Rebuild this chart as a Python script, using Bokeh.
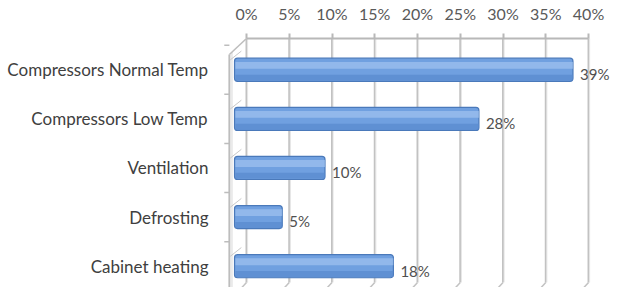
from bokeh.plotting import figure
from bokeh.models import Range1d, LinearAxis, FixedTicker, ColumnDataSource
from bokeh.core.properties import value
from bokeh.embed import file_html
from bokeh.resources import INLINE

# ---- data ----
categories = ["Compressors Normal Temp", "Compressors Low Temp", "Ventilation",
              "Defrosting", "Cabinet heating"]
shares = [39, 28, 10, 5, 18]
share_labels = ["39%", "28%", "10%", "5%", "18%"]
x_ticks = [0, 5, 10, 15, 20, 25, 30, 35, 40]
x_tick_labels = ["0%", "5%", "10%", "15%", "20%", "25%", "30%", "35%", "40%"]

# ---- style constants ----
FONT = "Lato"
BAR_LEFT = -1.4       # 3D front-face offset
END_SHIFT = -0.82
BAR_H = 0.47

n = len(categories)
ypos = [n - 1 - i for i in range(n)]

src = ColumnDataSource(dict(
    y=ypos,
    right=[v + END_SHIFT for v in shares],
    lab_x=[v + 0.0 for v in shares],
    lab_y=[y - 0.09 for y in ypos],
    hi_y=[y + 0.09 for y in ypos],
    lo_y=[y - 0.16 for y in ypos],
    label=share_labels,
))

p = figure(width=613, height=287, output_backend="svg", toolbar_location=None,
           x_range=Range1d(-2.807, 42.92), y_range=Range1d(-0.434, 4.636),
           x_axis_location=None, y_axis_location=None,
           min_border_left=222, min_border_right=0, min_border_top=36,
           min_border_bottom=0)
p.outline_line_color = None
p.background_fill_color = "white"

# top axis
xa = LinearAxis(ticker=FixedTicker(ticks=x_ticks))
xa.major_label_overrides = {t: s for t, s in zip(x_ticks, x_tick_labels)}
xa.bounds = (0, 40)
xa.axis_line_color = "#b8b8b8"
xa.axis_line_width = 2
xa.major_tick_line_color = "#b8b8b8"
xa.major_tick_line_width = 2
xa.major_tick_out = 5
xa.major_tick_in = 0
xa.minor_tick_line_color = None
xa.major_label_standoff = 11
xa.major_label_text_font = FONT
xa.major_label_text_font_size = "16px"
xa.major_label_text_color = "#595959"
p.add_layout(xa, "above")

# left axis (category labels)
ya = LinearAxis(ticker=FixedTicker(ticks=ypos))
ya.major_label_overrides = {y: c for y, c in zip(ypos, categories)}
ya.axis_line_color = None
ya.major_tick_line_color = None
ya.minor_tick_line_color = None
ya.major_tick_out = 0
ya.major_tick_in = 0
ya.major_label_standoff = 14
ya.major_label_text_font = FONT
ya.major_label_text_font_size = "17px"
ya.major_label_text_color = "#404040"
p.add_layout(ya, "left")

# grid lines (back wall)
p.xgrid.visible = False
p.ygrid.visible = False
p.segment(x0=x_ticks, x1=x_ticks, y0=-0.33, y1=4.7, line_color="#c2c2c2", line_width=2)
p.segment(x0=[t + 0.13 for t in x_ticks], x1=[t + 0.13 for t in x_ticks],
          y0=-0.33, y1=4.7, line_color="#e6e6e6", line_width=1)
# floor stubs
p.segment(x0=x_ticks, x1=[t - 1.4 for t in x_ticks], y0=-0.33, y1=-0.6,
          line_color="#c2c2c2", line_width=1.5)

# left wall
bounds = [y + 0.5 for y in ypos]
p.segment(x0=[-2.0], x1=[-2.0], y0=[-0.6], y1=[4.31], line_color="#bdbdbd", line_width=2)
p.segment(x0=[-1.7], x1=[-1.7], y0=[-0.6], y1=[4.36], line_color="#d8d8d8", line_width=1)
p.segment(x0=[-2.0], x1=[0], y0=[4.31], y1=[4.636], line_color="#bdbdbd", line_width=1.5)
p.segment(x0=[-2.6] * n, x1=[-2.0] * n, y0=bounds, y1=bounds,
          line_color="#bdbdbd", line_width=1.5)
p.segment(x0=[-1.9] * n, x1=[-0.6] * n, y0=[b - 0.3 for b in bounds],
          y1=[b - 0.12 for b in bounds], line_color="#c8c8c8", line_width=1)

# bars
p.hbar(y="y", left=BAR_LEFT, right="right", height=BAR_H, source=src,
       fill_color="#70a0e0", line_color="#4a79ba", line_width=1.2, border_radius=3)
p.hbar(y="lo_y", left=BAR_LEFT + 0.1, right="right", height=0.12, source=src,
       fill_color="#5889cd", fill_alpha=0.7, line_color=None)
p.hbar(y="hi_y", left=BAR_LEFT + 0.1, right="right", height=0.14, source=src,
       fill_color="#a9c8f1", fill_alpha=0.6, line_color=None)

# value labels
p.text(x="lab_x", y="lab_y", text="label", source=src, text_font=value(FONT),
       text_font_size="15px", text_color="#505050", text_baseline="middle",
       text_align="left")

open("out.html", "w").write(file_html(p, INLINE))
